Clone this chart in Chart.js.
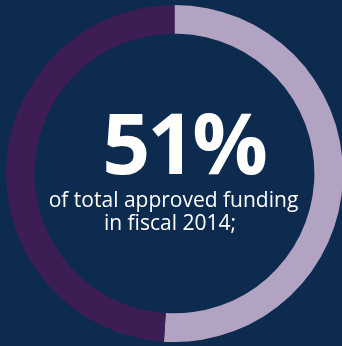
<!DOCTYPE html>
<html>
<head>
<meta charset="utf-8">
<script src="https://cdn.jsdelivr.net/npm/chart.js@4"></script>
<style>
    html, body {
        margin: 0;
        padding: 0;
        width: 342px;
        height: 346px;
        overflow: hidden;
        background: #0d2a4f;
    }
    .ring {
        position: absolute;
        left: 6px;
        top: 5px;
        width: 337px;
        height: 337px;
    }
</style>
</head>
<body>
<div class="ring"><canvas id="funding_ring"></canvas></div>
<script>
const labels = ['Approved funding share', 'Remainder'];
const shares = [51, 49];
const headline = '51%';
const captionLines = ['of total approved funding', 'in fiscal 2014;'];

const COLORS = {
    light: '#b3a3c3',
    dark: '#3c1e55',
    text: '#ffffff'
};

// writes the headline figure and caption in the hole of the ring
const centerText = {
    id: 'centerText',
    afterDraw(chart) {
        const { ctx } = chart;
        const meta = chart.getDatasetMeta(0).data[0];
        const cx = meta.x;
        const cy = meta.y;

        ctx.save();
        ctx.fillStyle = COLORS.text;
        ctx.textAlign = 'center';
        ctx.textBaseline = 'alphabetic';

        ctx.font = '700 84px "Open Sans"';
        ctx.letterSpacing = '-3px';
        ctx.fillText(headline, cx + 9, cy);

        ctx.letterSpacing = '0px';
        ctx.font = '400 21px "Open Sans"';
        ctx.fillText(captionLines[0], cx - 1, cy + 33.5);
        ctx.fillText(captionLines[1], cx - 4.5, cy + 56.5);
        ctx.restore();
    }
};

(() => {
    const ele = document.getElementById('funding_ring');

    new Chart(ele, {
        type: 'doughnut',
        data: {
            labels: labels,
            datasets: [{
                data: shares,
                backgroundColor: [COLORS.light, COLORS.dark],
                borderWidth: 0,
                cutout: '83%',
                rotation: 0
            }]
        },
        options: {
            responsive: true,
            maintainAspectRatio: false,
            animation: false,
            layout: { padding: 0 },
            plugins: {
                legend: { display: false },
                tooltip: { enabled: false }
            }
        },
        plugins: [centerText]
    });
})();
</script>
</body>
</html>
